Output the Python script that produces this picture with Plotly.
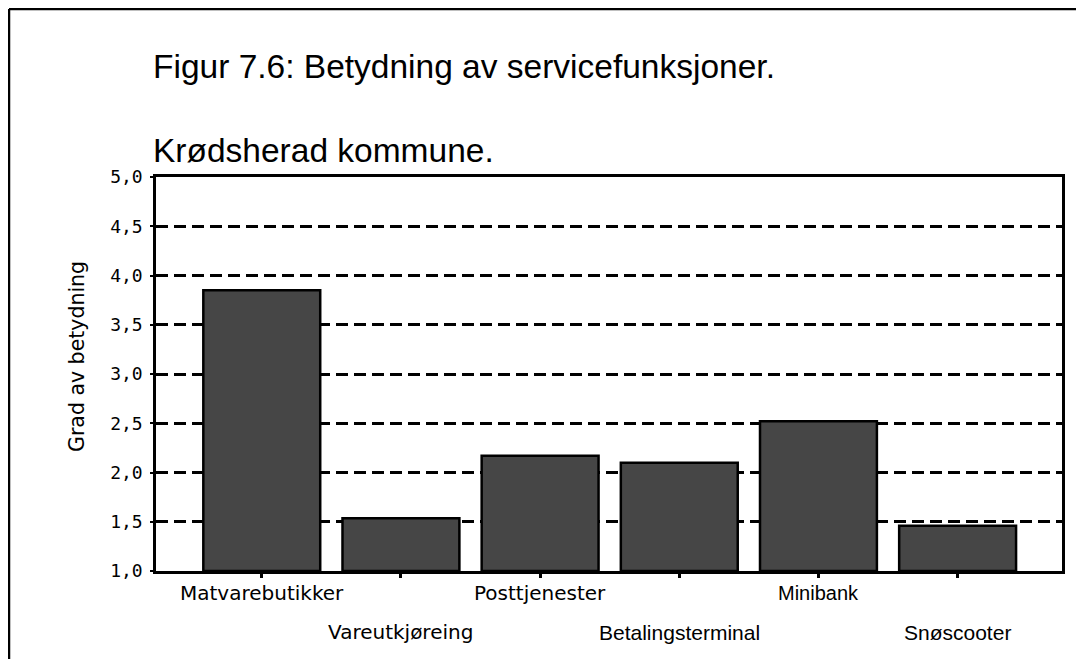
import plotly.graph_objects as go

# ---- data ----
categories = ["Matvarebutikker", "Vareutkjøreing", "Posttjenester",
              "Betalingsterminal", "Minibank", "Snøscooter"]
values = [3.85, 1.535, 2.17, 2.10, 2.52, 1.46]
y_tickvals = [1.0, 1.5, 2.0, 2.5, 3.0, 3.5, 4.0, 4.5, 5.0]
y_ticktext = ["1,0", "1,5", "2,0", "2,5", "3,0", "3,5", "4,0", "4,5", "5,0"]
title_line1 = "Figur 7.6: Betydning av servicefunksjoner."
title_line2 = "Krødsherad kommune."
y_title = "Grad av betydning"

# ---- layout constants (screen pixels; page body has an 8px margin) ----
OFF = 8
W, H = 1084, 659
PLOT_L, PLOT_R, PLOT_T, PLOT_B = 156, 1062, 177, 571   # on screen
L = PLOT_L - OFF
T = PLOT_T - OFF
R = W - (PLOT_R - OFF)
B = H - (PLOT_B - OFF)
PW, PH = W - L - R, H - T - B


def px_x(px):
    return (px - OFF - L) / PW


def px_y(py):
    return (H - B - (py - OFF)) / PH


label_fonts = ["DejaVu Sans", "DejaVu Sans", "DejaVu Sans",
               "Liberation Sans", "Liberation Sans", "Liberation Sans"]
label_sizes = [20, 20, 20, 21, 20, 21]

fig = go.Figure()
fig.add_trace(go.Bar(
    x=list(range(len(categories))),
    y=[v - 1.0 for v in values],
    base=1.0,
    width=0.84,
    marker=dict(color="#464646", line=dict(color="black", width=2.5)),
    hoverinfo="skip",
))

annotations = []
for i, cat in enumerate(categories):
    row_shift = -22 if i % 2 == 0 else -61
    annotations.append(dict(
        x=i, xref="x", y=0, yref="paper", yshift=row_shift,
        text=cat, showarrow=False, xanchor="center", yanchor="middle",
        font=dict(family=label_fonts[i], size=label_sizes[i], color="black"),
    ))

annotations += [
    dict(x=px_x(151), y=px_y(67), xref="paper", yref="paper", text=title_line1,
         showarrow=False, xanchor="left", yanchor="middle",
         font=dict(family="Liberation Sans", size=33.5, color="black")),
    dict(x=px_x(151), y=px_y(150), xref="paper", yref="paper", text=title_line2,
         showarrow=False, xanchor="left", yanchor="middle",
         font=dict(family="Liberation Sans", size=33.5, color="black")),
    dict(x=px_x(77), y=px_y(357), xref="paper", yref="paper", text=y_title,
         showarrow=False, textangle=-90, xanchor="center", yanchor="middle",
         font=dict(family="DejaVu Sans", size=20.5, color="black")),
]

shapes = [
    dict(type="line", xref="paper", yref="paper",
         x0=px_x(9), x1=px_x(W + 20), y0=px_y(9), y1=px_y(9),
         line=dict(color="black", width=2.5)),
    dict(type="line", xref="paper", yref="paper",
         x0=px_x(9), x1=px_x(9), y0=px_y(9), y1=px_y(H + 20),
         line=dict(color="black", width=2.5)),
]

fig.update_layout(
    width=W, height=H,
    margin=dict(l=L, r=R, t=T, b=B, pad=0),
    paper_bgcolor="white", plot_bgcolor="white",
    showlegend=False,
    annotations=annotations,
    shapes=shapes,
    xaxis=dict(
        range=[-0.76, 5.75], showgrid=False, zeroline=False,
        tickvals=list(range(len(categories))), showticklabels=False,
        ticks="outside", ticklen=4, tickwidth=3, tickcolor="black",
        showline=True, linecolor="black", linewidth=2.5, mirror=True,
    ),
    yaxis=dict(
        range=[1.0, 5.0], tickvals=y_tickvals, ticktext=y_ticktext,
        showgrid=True, gridcolor="black", gridwidth=2.5, griddash="12px,6px",
        zeroline=False,
        ticks="outside", ticklen=3, tickwidth=2, tickcolor="black",
        ticklabelstandoff=4,
        tickfont=dict(family="DejaVu Sans Mono", size=18, color="black"),
        showline=True, linecolor="black", linewidth=2.5, mirror=True,
    ),
)

fig.write_html("out.html")
